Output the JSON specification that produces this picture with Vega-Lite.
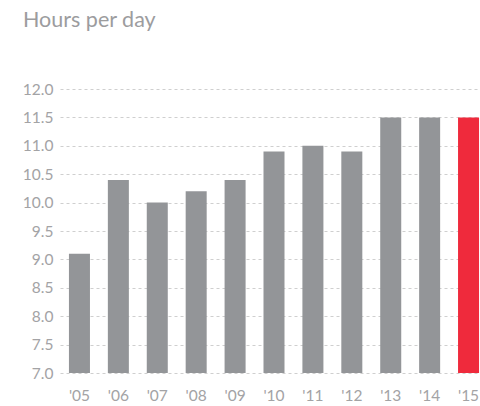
{
  "$schema": "https://vega.github.io/schema/vega-lite/v6.json",
  "autosize": {"type": "none"},
  "padding": {"left": 60, "top": 89, "right": 0, "bottom": 33},
  "width": 428,
  "height": 284,
  "background": "white",
  "title": {
    "text": "Hours per day",
    "anchor": "start",
    "frame": "group",
    "dx": -37,
    "offset": 51,
    "font": "Lato",
    "fontSize": 21.5,
    "fontWeight": "normal",
    "color": "#9c9c9e"
  },
  "config": {
    "view": {"stroke": null},
    "axis": {
      "labelFont": "Lato",
      "labelFontSize": 15.5,
      "labelColor": "#a3a3a5",
      "domain": false,
      "ticks": false,
      "title": null
    }
  },
  "data": {
    "values": [
      {"year": "'05", "hours": 9.1, "current": false},
      {"year": "'06", "hours": 10.4, "current": false},
      {"year": "'07", "hours": 10.0, "current": false},
      {"year": "'08", "hours": 10.2, "current": false},
      {"year": "'09", "hours": 10.4, "current": false},
      {"year": "'10", "hours": 10.9, "current": false},
      {"year": "'11", "hours": 11.0, "current": false},
      {"year": "'12", "hours": 10.9, "current": false},
      {"year": "'13", "hours": 11.5, "current": false},
      {"year": "'14", "hours": 11.5, "current": false},
      {"year": "'15", "hours": 11.5, "current": true}
    ]
  },
  "mark": {"type": "bar"},
  "encoding": {
    "x": {
      "field": "year",
      "type": "ordinal",
      "sort": null,
      "scale": {"paddingInner": 0.46, "paddingOuter": 0.23},
      "axis": {"labelAngle": 0, "labelPadding": 15, "grid": false}
    },
    "y": {
      "field": "hours",
      "type": "quantitative",
      "scale": {"domain": [7, 12], "zero": false, "nice": false},
      "axis": {
        "values": [7, 7.5, 8, 8.5, 9, 9.5, 10, 10.5, 11, 11.5, 12],
        "format": ".1f",
        "labelPadding": 7,
        "grid": true,
        "gridColor": "#cfcfcf",
        "gridDash": [3, 3],
        "gridWidth": 1
      }
    },
    "y2": {"datum": 7},
    "color": {
      "field": "current",
      "type": "nominal",
      "scale": {"domain": [false, true], "range": ["#939598", "#ef2a3c"]},
      "legend": null
    }
  }
}
